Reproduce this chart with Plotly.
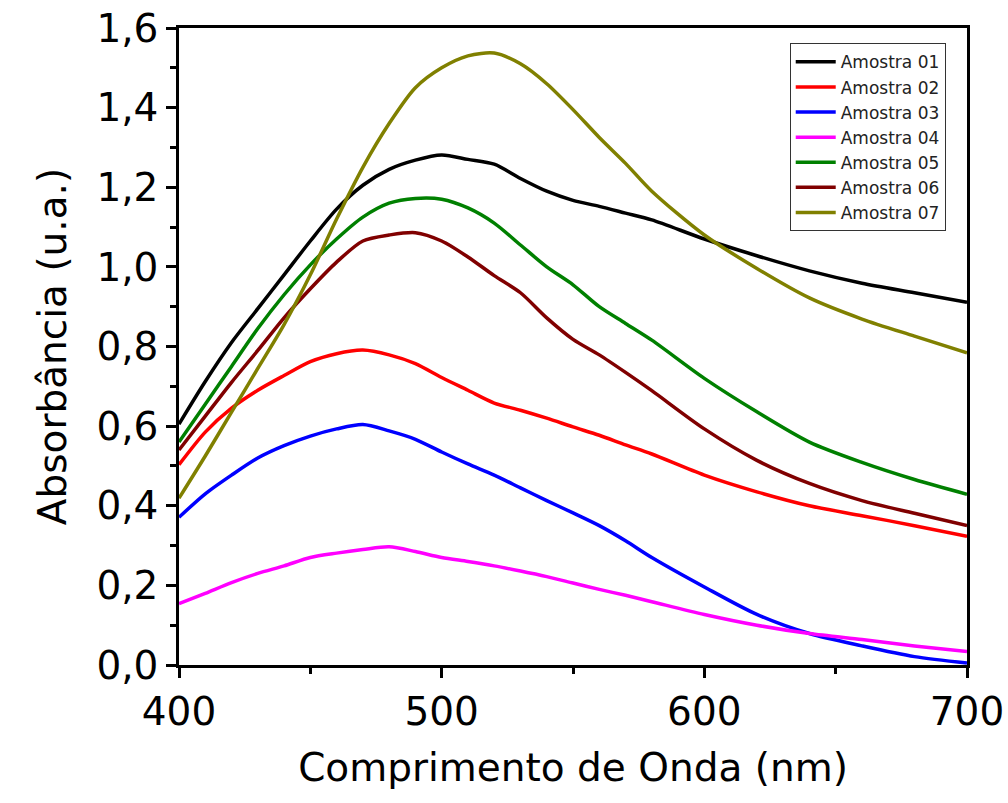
import plotly.graph_objects as go

wl = [400, 410, 420, 430, 440, 450, 460, 470, 480, 490, 500, 510, 520, 530, 540, 550, 560, 570, 580,
      600, 620, 640, 660, 680, 700]

a01 = [0.605, 0.712, 0.81, 0.895, 0.98, 1.065, 1.145, 1.205, 1.245, 1.268, 1.281, 1.27, 1.258, 1.222, 1.19,
       1.167, 1.152, 1.135, 1.118, 1.07, 1.028, 0.99, 0.959, 0.935, 0.911]
a02 = [0.503, 0.585, 0.645, 0.69, 0.727, 0.762, 0.782, 0.791, 0.779, 0.757, 0.722, 0.69, 0.658, 0.64, 0.62,
       0.598, 0.577, 0.553, 0.53, 0.477, 0.435, 0.40, 0.375, 0.35, 0.323]
a03 = [0.371, 0.43, 0.477, 0.52, 0.551, 0.575, 0.593, 0.604, 0.588, 0.567, 0.535, 0.505, 0.477, 0.445, 0.413,
       0.382, 0.35, 0.312, 0.27, 0.196, 0.127, 0.079, 0.048, 0.021, 0.005]
a04 = [0.154, 0.18, 0.207, 0.23, 0.249, 0.27, 0.281, 0.29, 0.297, 0.285, 0.27, 0.26, 0.249, 0.236, 0.222,
       0.206, 0.19, 0.175, 0.159, 0.127, 0.10, 0.079, 0.064, 0.048, 0.034]
a05 = [0.56, 0.655, 0.75, 0.845, 0.93, 1.005, 1.07, 1.125, 1.16, 1.172, 1.17, 1.148, 1.11, 1.055, 1.0,
       0.955, 0.90, 0.858, 0.816, 0.72, 0.636, 0.56, 0.509, 0.466, 0.429]
a06 = [0.54, 0.625, 0.71, 0.79, 0.872, 0.945, 1.012, 1.065, 1.08, 1.086, 1.065, 1.025, 0.978, 0.935, 0.872,
       0.818, 0.779, 0.735, 0.689, 0.593, 0.514, 0.456, 0.413, 0.381, 0.35]
a07 = [0.419, 0.525, 0.635, 0.745, 0.855, 0.98, 1.12, 1.25, 1.36, 1.45, 1.50, 1.53, 1.537, 1.51, 1.46,
       1.395, 1.325, 1.26, 1.19, 1.08, 0.996, 0.922, 0.869, 0.826, 0.784]

names = ["Amostra 01", "Amostra 02", "Amostra 03", "Amostra 04", "Amostra 05", "Amostra 06", "Amostra 07"]
series = [a01, a02, a03, a04, a05, a06, a07]
colors = ["#000000", "#FF0000", "#0000FF", "#FF00FF", "#008000", "#800000", "#808000"]

fig = go.Figure()
for i, (n, s, c) in enumerate(zip(names, series, colors)):
    fig.add_trace(go.Scatter(x=wl, y=s, mode="lines", name=n, legendgroup=str(i),
                             line=dict(color=c, width=3.5, shape="spline", smoothing=0.8)))

tick_font = dict(family="DejaVu Sans", size=39, color="black")
title_font = dict(family="DejaVu Sans", size=39, color="black")
fig.update_layout(
    width=1008, height=803,
    paper_bgcolor="white", plot_bgcolor="white",
    margin=dict(l=179, r=41, t=28, b=138, autoexpand=False),
    separators=",.",
    font=dict(family="DejaVu Sans", color="black"),
    legend=dict(x=0.973, y=0.976, xanchor="right", yanchor="top",
                bordercolor="#333333", borderwidth=1, bgcolor="white",
                font=dict(family="DejaVu Sans", size=17, color="#222222"),
                tracegroupgap=0, traceorder="grouped", itemwidth=40),
    xaxis=dict(range=[400, 700], tickvals=[400, 500, 600, 700], ticks="outside", ticklen=10, tickwidth=2.5,
               tickcolor="black", showline=True, linecolor="black", linewidth=2.5, mirror=True,
               showgrid=False, zeroline=False, tickfont=tick_font, ticklabeloverflow="allow", automargin=False,
               minor=dict(tickvals=[450, 550, 650], ticks="outside", ticklen=6, tickwidth=2.5, tickcolor="black"),
               title=dict(text="Comprimento de Onda (nm)", font=title_font, standoff=22)),
    yaxis=dict(range=[0, 1.6], tickvals=[0, 0.2, 0.4, 0.6, 0.8, 1.0, 1.2, 1.4, 1.6], tickformat=".1f",
               ticks="outside", ticklen=10, tickwidth=2.5, tickcolor="black",
               showline=True, linecolor="black", linewidth=2.5, mirror=True,
               showgrid=False, zeroline=False, tickfont=tick_font, ticklabeloverflow="allow", automargin=False,
               minor=dict(tickvals=[0.1, 0.3, 0.5, 0.7, 0.9, 1.1, 1.3, 1.5], ticks="outside", ticklen=6,
                          tickwidth=2.5, tickcolor="black"),
               title=dict(text="Absorbância (u.a.)", font=title_font, standoff=18)),
)

fig.write_html("out.html", config={"displayModeBar": False},
               post_script="document.body.style.margin='0';")
